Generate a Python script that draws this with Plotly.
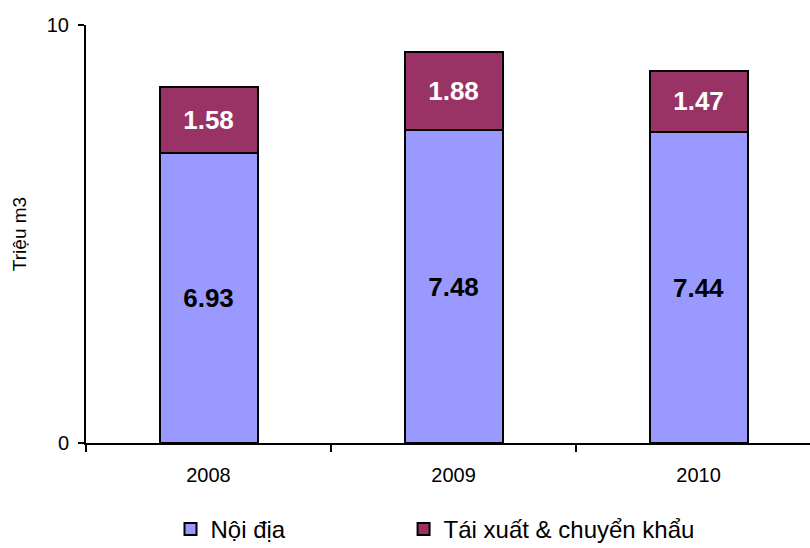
import plotly.graph_objects as go

years = ["2008", "2009", "2010"]
noi_dia = [6.93, 7.48, 7.44]
tai_xuat = [1.58, 1.88, 1.47]
y_ticks = [0, 10]
series_names = ["Nội địa", "Tái xuất & chuyển khẩu"]

FONT = "Arial, Liberation Sans, sans-serif"
PAD = "\u00a0" * 17  # widens the first legend entry to space the two items

fig = go.Figure()
fig.add_trace(go.Bar(
    x=years, y=noi_dia, name=series_names[0] + PAD,
    marker=dict(color="#9999FF", line=dict(color="black", width=2)),
    texttemplate="<b>%{y:.2f}</b>", textposition="inside",
    insidetextanchor="middle",
    textfont=dict(family=FONT, size=26, color="black"),
))
fig.add_trace(go.Bar(
    x=years, y=tai_xuat, name=series_names[1],
    marker=dict(color="#993366", line=dict(color="black", width=2)),
    texttemplate="<b>%{y:.2f}</b>", textposition="inside",
    insidetextanchor="middle",
    textfont=dict(family=FONT, size=26, color="white"),
))

fig.update_layout(
    barmode="stack",
    bargap=0.6,
    width=810, height=560,
    margin=dict(l=86, r=0, t=25, b=117),
    plot_bgcolor="white", paper_bgcolor="white",
    font=dict(family=FONT, size=20, color="black"),
    uniformtext=dict(mode=False),
    legend=dict(
        orientation="h", xref="container", yref="container",
        x=0.2105, xanchor="left", y=0.0143, yanchor="bottom",
        font=dict(family=FONT, size=24, color="black"),
        traceorder="normal",
    ),
    xaxis=dict(
        range=[-0.5, 2.455], showline=True, linecolor="black", linewidth=2,
        ticks="outside", tickson="boundaries", ticklen=7, tickwidth=2,
        tickcolor="black", showgrid=False, tickfont=dict(size=20),
        ticklabelstandoff=13,
    ),
    yaxis=dict(
        range=[0, 10], tickvals=y_ticks, showline=True, linecolor="black",
        linewidth=2, ticks="outside", ticklen=6, tickwidth=2, tickcolor="black",
        showgrid=True, gridcolor="#808080", gridwidth=2, zeroline=False,
        tickfont=dict(size=20), ticklabelstandoff=5,
        title=dict(text="Triệu m3", font=dict(size=19), standoff=15),
    ),
)

fig.write_html(
    "out.html",
    config={"displayModeBar": False},
    post_script="document.body.style.margin='0';document.body.style.overflow='hidden';",
)
